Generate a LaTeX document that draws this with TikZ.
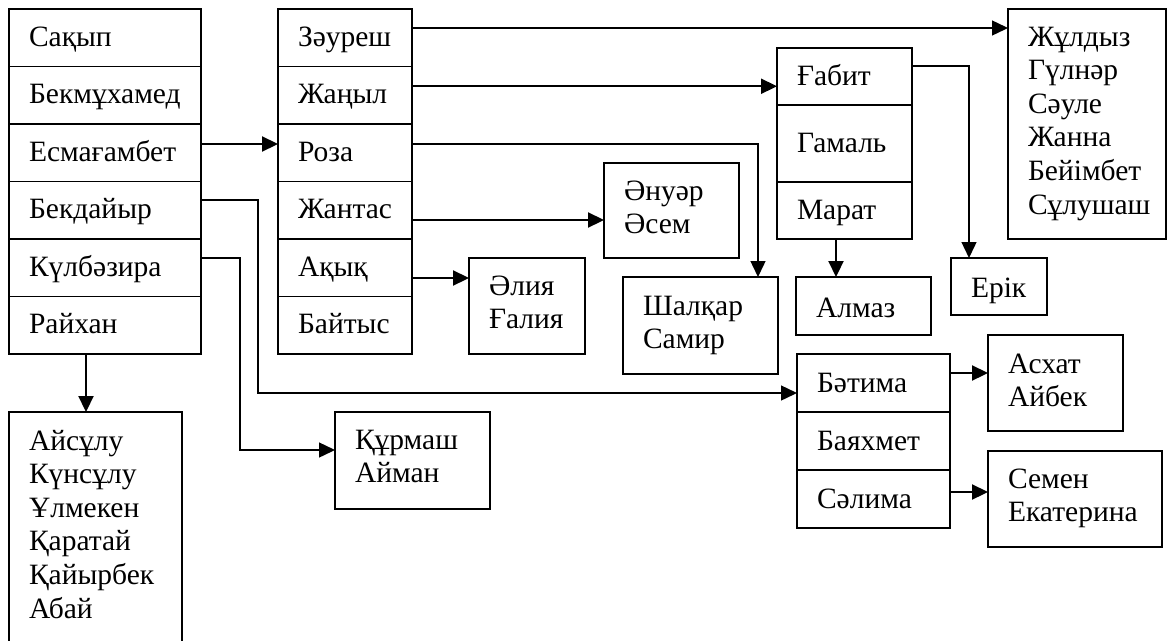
\documentclass[tikz,border=0pt]{standalone}
\usepackage{fontspec}
\setmainfont{Liberation Serif}
\usepackage{tikz}
\usetikzlibrary{positioning, arrows.meta}

\tikzset{
  box/.style={draw, line width=1.6, anchor=north west, outer sep=0pt, inner xsep=20pt, inner ysep=0pt, align=left, text height=37pt, text depth=20.5pt},
  link/.style={line width=1.4, -{Triangle[length=16pt,width=15pt]}},
  bold link/.style={line width=2.2, -{Triangle[length=16pt,width=15pt]}}
}

\begin{document}
\begin{tikzpicture}[x=1pt, y=-1pt, font=\fontsize{29.5}{33.6}\selectfont]
\useasboundingbox (0,0) rectangle (1169,640);
% left table %
\node[box, text width=152pt] (sakyp) at (9,9) {Сақып};
\node[box, text width=152pt, below=0pt of sakyp] (bekmukhamed) {Бекмұхамед};
\node[box, text width=152pt, below=0pt of bekmukhamed] (esmagambet) {Есмағамбет};
\node[box, text width=152pt, below=0pt of esmagambet] (bekdaiyr) {Бекдайыр};
\node[box, text width=152pt, below=0pt of bekdaiyr] (kulbazira) {Күлбәзира};
\node[box, text width=152pt, below=0pt of kulbazira] (raikhan) {Райхан};
\node[box, text width=133pt, text height=38pt, text depth=192pt] (aisulu) at (9,412) {Айсұлу\\Күнсұлу\\Ұлмекен\\Қаратай\\Қайырбек\\Абай};
% middle table %
\node[box, text width=94pt] (zauresh) at (278,9) {Зәуреш};
\node[box, text width=94pt, below=0pt of zauresh] (zhanyl) {Жаңыл};
\node[box, text width=94pt, below=0pt of zhanyl] (roza) {Роза};
\node[box, text width=94pt, below=0pt of roza] (zhantas) {Жантас};
\node[box, text width=94pt, below=0pt of zhantas] (akyk) {Ақық};
\node[box, text width=94pt, below=0pt of akyk] (baitys) {Байтыс};
% children %
\node[box, text width=76pt, text depth=59pt] (alia) at (469,258) {Әлия\\Ғалия};
\node[box, text width=95pt, text depth=58pt] (anuar) at (604,163) {Әнуәр\\Әсем};
\node[box, text width=115pt, text height=38pt, text depth=59pt] (shalkar) at (623,277) {Шалқар\\Самир};
\node[box, text width=115pt, text depth=60pt] (kurmash) at (335,412) {Құрмаш\\Айман};
% right tables %
\node[box, text width=95pt, text depth=20pt] (gabit) at (777,48) {Ғабит};
\node[box, text width=95pt, text height=47pt, text depth=30pt, below=0pt of gabit] (gamal) {Гамаль};
\node[box, text width=95pt, text depth=20pt, below=0pt of gamal] (marat) {Марат};
\node[box, text width=95pt, text height=40pt, text depth=18pt] (almaz) at (796,277) {Алмаз};
\node[box, text width=56pt, text height=39pt, text depth=18pt] (erik) at (951,258) {Ерік};
\node[box, text width=118pt, text depth=193pt] (zhuldyz) at (1008,9) {Жұлдыз\\Гүлнәр\\Сәуле\\Жанна\\Бейімбет\\Сұлушаш};
\node[box, text width=113pt, text height=38pt, text depth=20pt] (batima) at (797,354) {Бәтима};
\node[box, text width=113pt, text height=38pt, text depth=20pt, below=0pt of batima] (bayakhmet) {Баяхмет};
\node[box, text width=113pt, text height=38pt, text depth=20pt, below=0pt of bayakhmet] (salima) {Сәлима};
\node[box, text width=95pt, text height=38pt, text depth=58pt] (askhat) at (988,335) {Асхат\\Айбек};
\node[box, text width=134pt, text depth=59pt] (semen) at (988,451) {Семен\\Екатерина};
% links %
\coordinate (es) at ([yshift=8.75pt]esmagambet.east);
\draw[bold link] (es) -- (es -| roza.west);
\coordinate (zr) at ([yshift=9.75pt]zauresh.east);
\draw[link] (zr) -- (zr -| zhuldyz.west);
\coordinate (zn) at ([yshift=9pt]zhanyl.east);
\draw[bold link] (zn) -- (zn -| gabit.west);
\coordinate (rz) at ([yshift=8.75pt]roza.east);
\draw[link] (rz) -| ([xshift=-20pt]shalkar.north east);
\coordinate (zt) at ([yshift=-9.75pt]zhantas.east);
\draw[bold link] (zt) -- (zt -| anuar.west);
\coordinate (ak) at ([yshift=-10.25pt]akyk.east);
\draw[bold link] (ak) -- (ak -| alia.west);
\coordinate (bd) at ([yshift=10.25pt]bekdaiyr.east);
\coordinate (bt) at ([yshift=-10pt]batima.west);
\draw[link] (bd) -- ++(57,0) |- (bt);
\coordinate (kb) at ([yshift=9.75pt]kulbazira.east);
\coordinate (km) at ([yshift=10.5pt]kurmash.west);
\draw[link] (kb) -- ++(39,0) |- (km);
\coordinate (rk) at ([xshift=-19pt]raikhan.south);
\draw[bold link] (rk) -- (rk |- aisulu.north);
\coordinate (mr) at ([xshift=-8.5pt]marat.south);
\draw[bold link] (mr) -- (mr |- almaz.north);
\coordinate (gb) at ([yshift=10.5pt]gabit.east);
\draw[link] (gb) -| ([xshift=18pt]erik.north west);
\coordinate (bm) at ([yshift=10pt]batima.east);
\draw[bold link] (bm) -- (bm -| askhat.west);
\coordinate (sl) at ([yshift=7pt]salima.east);
\draw[bold link] (sl) -- (sl -| semen.west);
\end{tikzpicture}
\end{document}
